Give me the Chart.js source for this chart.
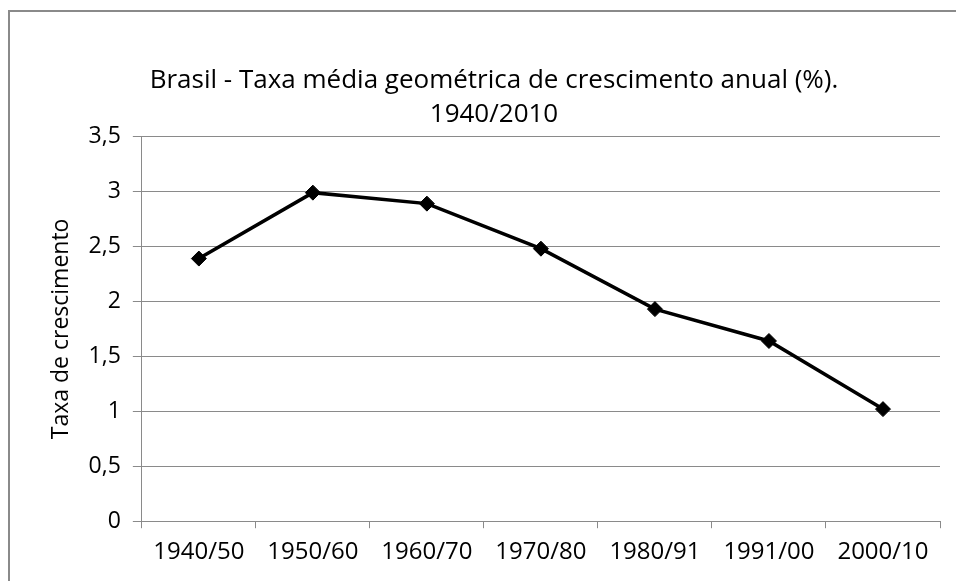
<!DOCTYPE html>
<html>
<head>
<meta charset="utf-8">
<script src="https://cdn.jsdelivr.net/npm/chart.js@4.4.1/dist/chart.umd.min.js"></script>
<style>
  html, body { margin: 0; padding: 0; background: #fff; overflow: hidden; }
  #wrap { position: relative; width: 956px; height: 581px; }
  #frame {
    position: absolute; left: 8px; top: 10px; width: 960px; height: 600px;
    border: 2px solid #8a8a8a; box-sizing: border-box;
  }
  canvas { position: absolute; left: 0; top: 0; }
</style>
</head>
<body>
<div id="wrap">
  <canvas id="taxaChart" width="956" height="581"></canvas>
  <div id="frame"></div>
</div>
<script>
const periodos = ["1940/50", "1950/60", "1960/70", "1970/80", "1980/91", "1991/00", "2000/10"];
const taxas = [2.39, 2.99, 2.89, 2.48, 1.93, 1.64, 1.02];
const yMin = 0;
const yMax = 3.5;
const yStep = 0.5;

const fonte = "'Open Sans', 'Noto Sans', sans-serif";
const cinza = "#8a8a8a";

const taxaChart = document.getElementById("taxaChart");

new Chart(taxaChart, {
  type: "line",
  data: {
    labels: periodos,
    datasets: [
      {
        label: "Taxa de crescimento",
        data: taxas,
        borderColor: "#000000",
        backgroundColor: "#000000",
        borderWidth: 3.5,
        pointStyle: "rectRot",
        pointRadius: 7.5,
        pointBorderWidth: 1,
        tension: 0,
      },
    ],
  },
  options: {
    responsive: false,
    animation: false,
    layout: {
      padding: { left: 48, right: 16, top: 50, bottom: 4 },
    },
    plugins: {
      legend: { display: false },
      tooltip: { enabled: false },
      title: {
        display: true,
        text: ["Brasil - Taxa média geométrica de crescimento anual (%).", "1940/2010"],
        color: "#000",
        font: { family: fonte, size: 26, weight: "normal", lineHeight: 1.3 },
        padding: { top: 14, bottom: 5 },
      },
    },
    scales: {
      x: {
        offset: true,
        grid: {
          offset: true,
          drawOnChartArea: false,
          drawTicks: true,
          tickLength: 7,
          color: cinza,
        },
        border: { display: true, color: cinza, width: 1 },
        ticks: {
          color: "#000",
          padding: 10,
          maxRotation: 0,
          font: { family: fonte, size: 24 },
        },
      },
      y: {
        min: yMin,
        max: yMax,
        ticks: {
          stepSize: yStep,
          color: "#000",
          padding: 12,
          font: { family: fonte, size: 23 },
          callback: (v) => String(v).replace(".", ","),
        },
        grid: {
          color: cinza,
          tickLength: 9,
        },
        border: { display: true, color: cinza, width: 1 },
        title: {
          display: true,
          text: "Taxa de crescimento",
          color: "#000",
          font: { family: fonte, size: 23 },
          padding: { top: 0, bottom: 1 },
        },
      },
    },
  },
});
</script>
</body>
</html>
